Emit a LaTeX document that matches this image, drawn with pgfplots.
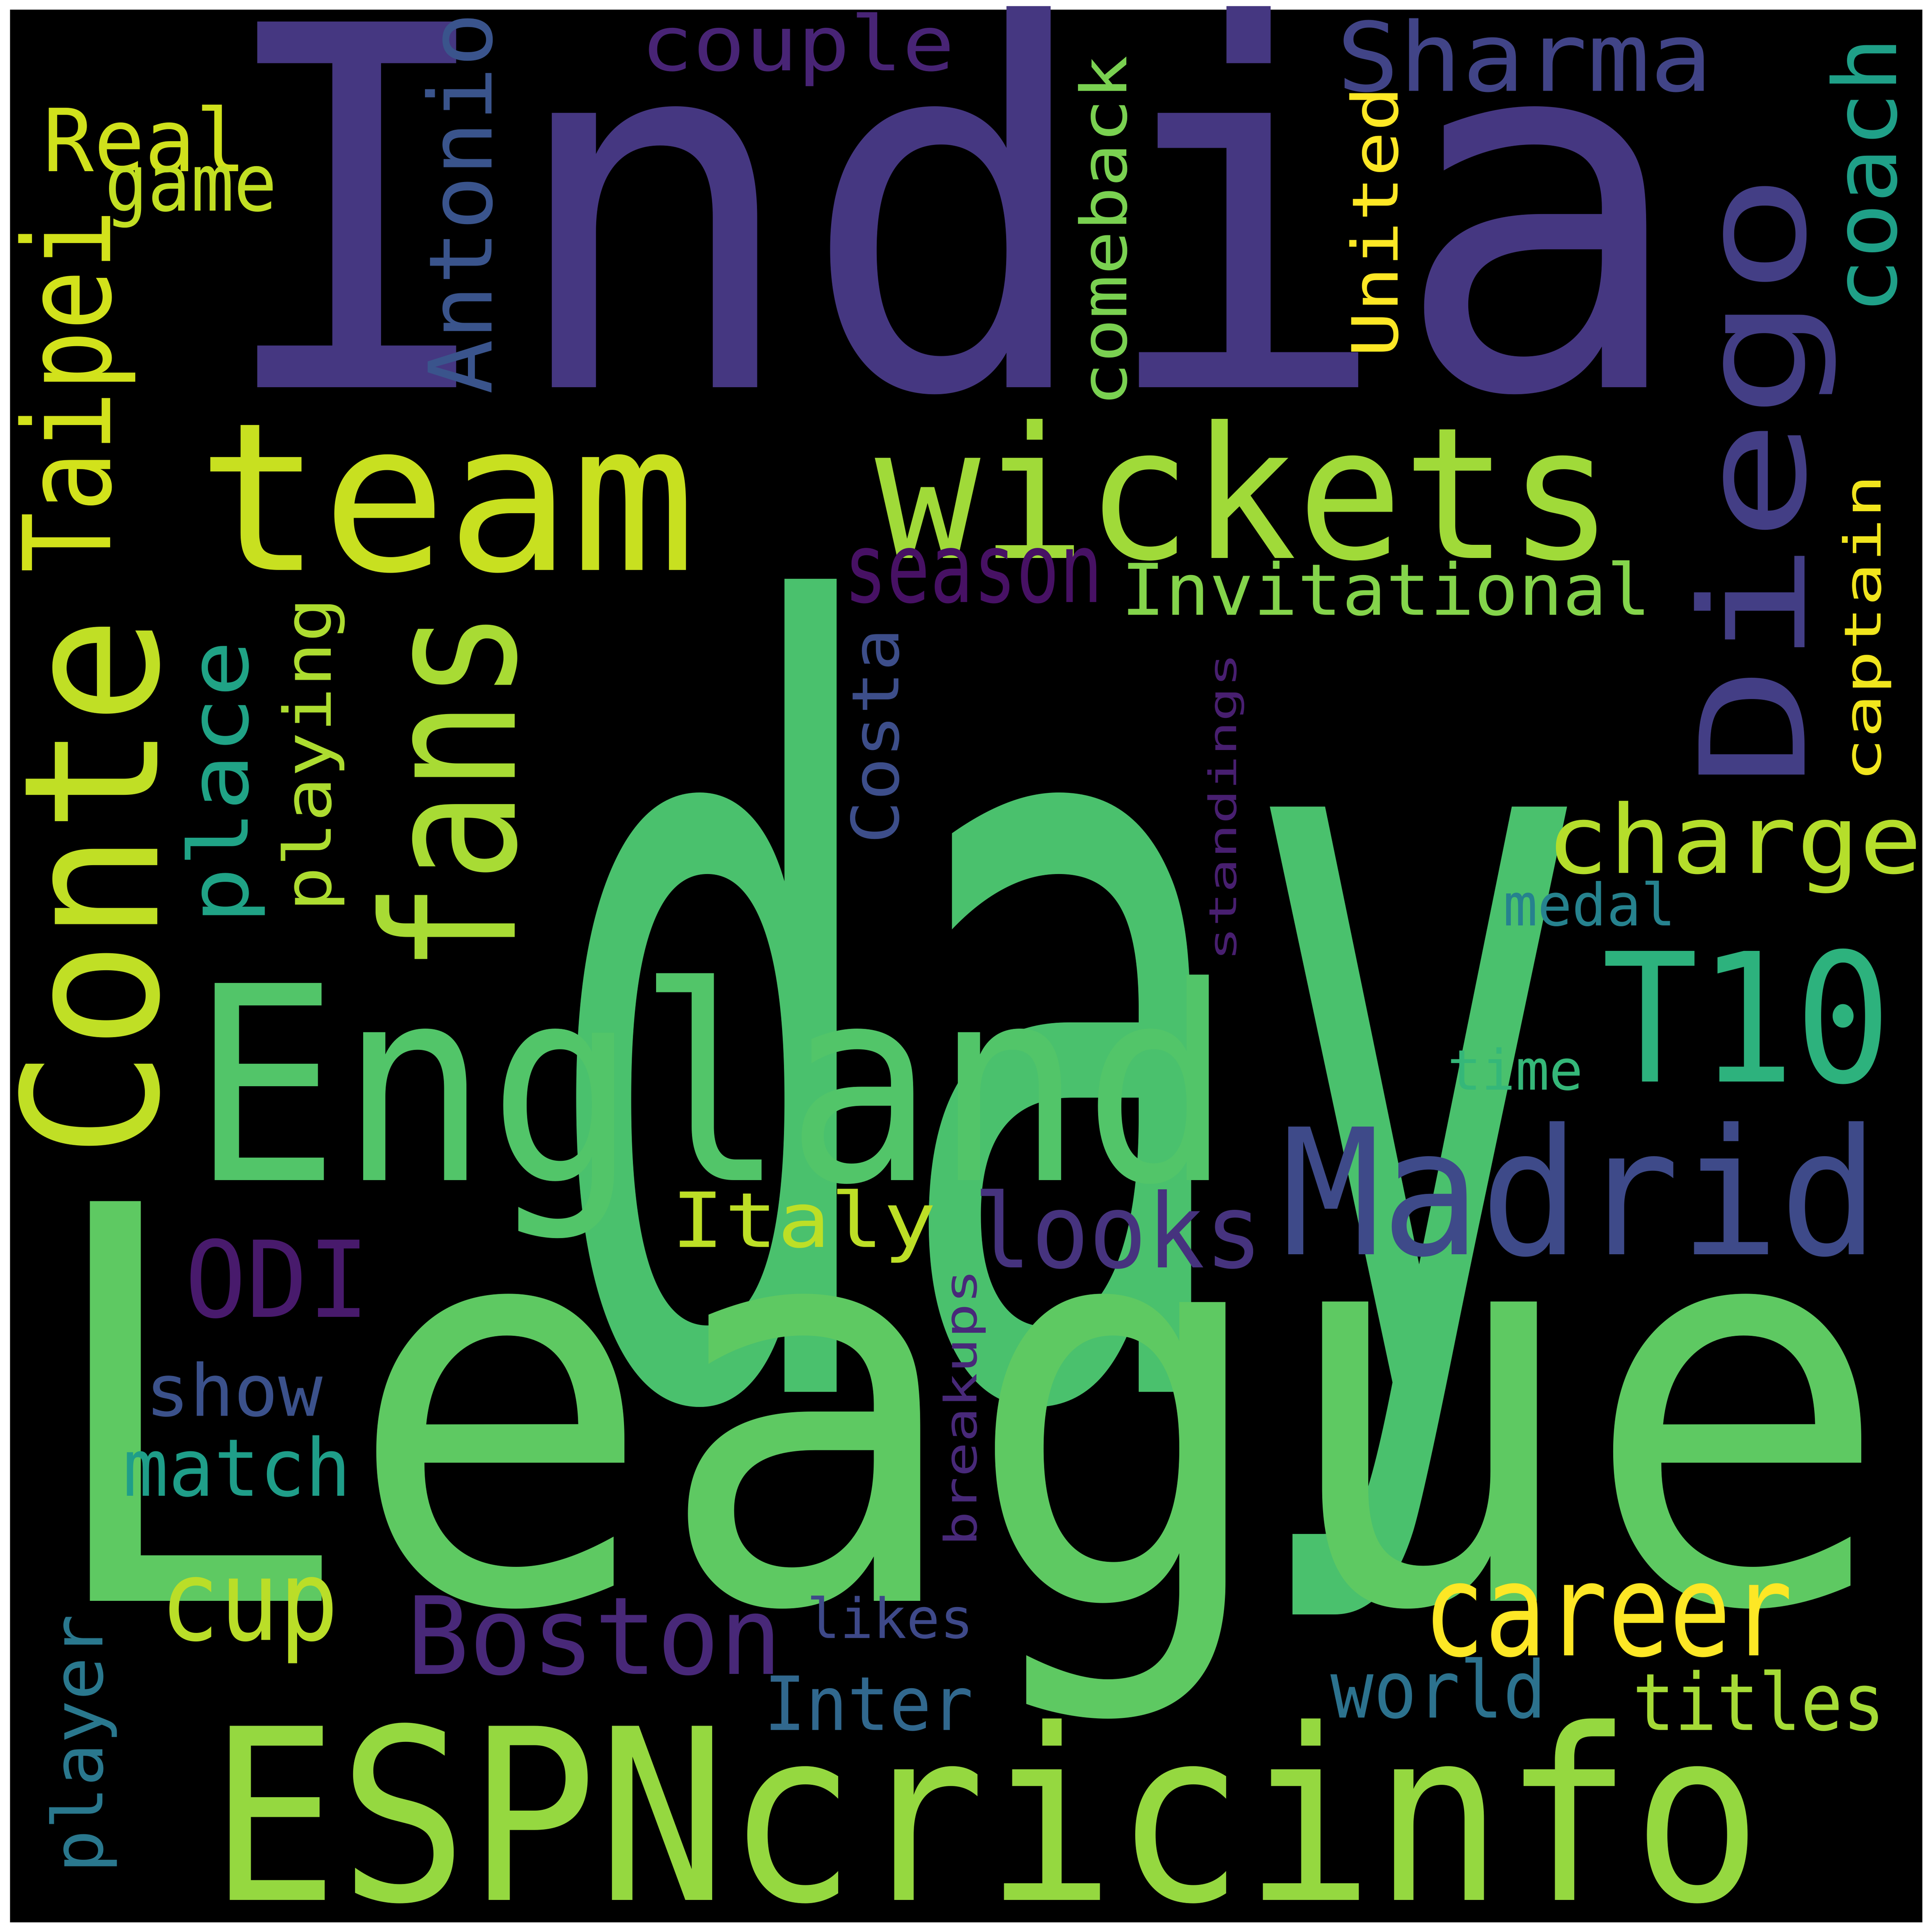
\documentclass[border=0pt]{standalone}
\usepackage{pgfplots}
\pgfplotsset{compat=1.18}
\usepackage{fontspec}
\setmainfont{DejaVu Sans Mono}
\newlength\uu
\setlength\uu{0.18146pt}
% word: x0 x1 y0 y1 rot color text   (image coords, y downward)
\newcommand\wrd[7]{%
  \ifnum#5=0
    \node[inner sep=0pt,anchor=center] at (axis cs:{(#1+#2)/2},{(#3+#4)/2}) {\resizebox*{\dimexpr\uu*(#2-#1)\relax}{\dimexpr\uu*(#4-#3)\relax}{\textcolor[HTML]{#6}{#7}}};
  \else
    \node[inner sep=0pt,anchor=center,rotate=90] at (axis cs:{(#1+#2)/2},{(#3+#4)/2}) {\resizebox*{\dimexpr\uu*(#4-#3)\relax}{\dimexpr\uu*(#2-#1)\relax}{\textcolor[HTML]{#6}{#7}}};
  \fi}
\begin{document}
\begin{tikzpicture}
\begin{axis}[hide axis, scale only axis, width=10cm, height=10cm,
  xmin=0, xmax=1568, ymin=0, ymax=1568, y dir=reverse, clip=false]
\fill[white] (axis cs:0,0) rectangle (axis cs:1568,1568);
\fill[black] (axis cs:8,8) rectangle (axis cs:1560,1560);
\wrd{170}{1370}{5}{320}{0}{453781}{India}
\wrd{440}{1290}{470}{1310}{0}{4AC16D}{day}
\wrd{30}{1535}{975}{1395}{0}{5EC962}{League}
\wrd{155}{1000}{790}{1005}{0}{52C569}{England}
\wrd{170}{1430}{1395}{1545}{0}{95D840}{ESPNcricinfo}
\wrd{160}{565}{345}{465}{0}{C8E020}{team}
\wrd{710}{1310}{340}{455}{0}{A0DA39}{wickets}
\wrd{1040}{1525}{910}{1020}{0}{3E4A89}{Madrid}
\wrd{1300}{1535}{770}{880}{0}{2DB27D}{T10}
\wrd{1255}{1560}{650}{725}{0}{B5DE2B}{charge}
\wrd{1085}{1390}{15}{75}{0}{414487}{Sharma}
\wrd{520}{775}{10}{70}{0}{482475}{couple}
\wrd{35}{200}{85}{140}{0}{D0E11C}{Real}
\wrd{85}{225}{135}{185}{0}{C2DF23}{game}
\wrd{685}{895}{445}{490}{0}{471164}{season}
\wrd{910}{1340}{455}{500}{0}{84D44B}{Invitational}
\wrd{545}{760}{965}{1025}{0}{BDDF26}{Italy}
\wrd{790}{1025}{965}{1030}{0}{46337E}{looks}
\wrd{150}{300}{1005}{1070}{0}{481A6C}{ODI}
\wrd{118}{262}{1105}{1150}{0}{3B518B}{show}
\wrd{100}{285}{1165}{1215}{0}{1F9E89}{match}
\wrd{130}{275}{1280}{1350}{0}{BADE28}{cup}
\wrd{330}{635}{1295}{1360}{0}{482878}{Boston}
\wrd{655}{790}{1295}{1330}{0}{3E4989}{likes}
\wrd{1155}{1455}{1285}{1345}{0}{FDE725}{career}
\wrd{620}{790}{1360}{1405}{0}{31688E}{Inter}
\wrd{1080}{1255}{1345}{1395}{0}{2C728E}{world}
\wrd{1325}{1530}{1355}{1405}{0}{A5DB36}{titles}
\wrd{1220}{1360}{715}{752}{0}{26828E}{medal}
\wrd{1175}{1285}{850}{885}{0}{35B779}{time}
\wrd{15}{130}{500}{940}{1}{C0DF25}{Conte}
\wrd{305}{420}{495}{790}{1}{A8DB34}{fans}
\wrd{1375}{1490}{140}{640}{1}{433E85}{Diego}
\wrd{15}{110}{170}{465}{1}{D2E21B}{Taipei}
\wrd{150}{215}{520}{750}{1}{20A386}{place}
\wrd{228}{280}{485}{740}{1}{ADDC30}{playing}
\wrd{345}{400}{10}{320}{1}{3A548C}{Antonio}
\wrd{875}{915}{45}{330}{1}{7AD151}{comeback}
\wrd{1095}{1135}{70}{290}{1}{FDE725}{United}
\wrd{1485}{1540}{30}{255}{1}{1FA088}{coach}
\wrd{1495}{1535}{385}{635}{1}{F1E51D}{captain}
\wrd{690}{730}{510}{685}{1}{3D4E8A}{Costa}
\wrd{980}{1010}{530}{780}{1}{481F70}{standings}
\wrd{765}{800}{1030}{1255}{1}{482979}{breakups}
\wrd{40}{95}{1310}{1520}{1}{2A788E}{player}
\end{axis}
\end{tikzpicture}
\end{document}
